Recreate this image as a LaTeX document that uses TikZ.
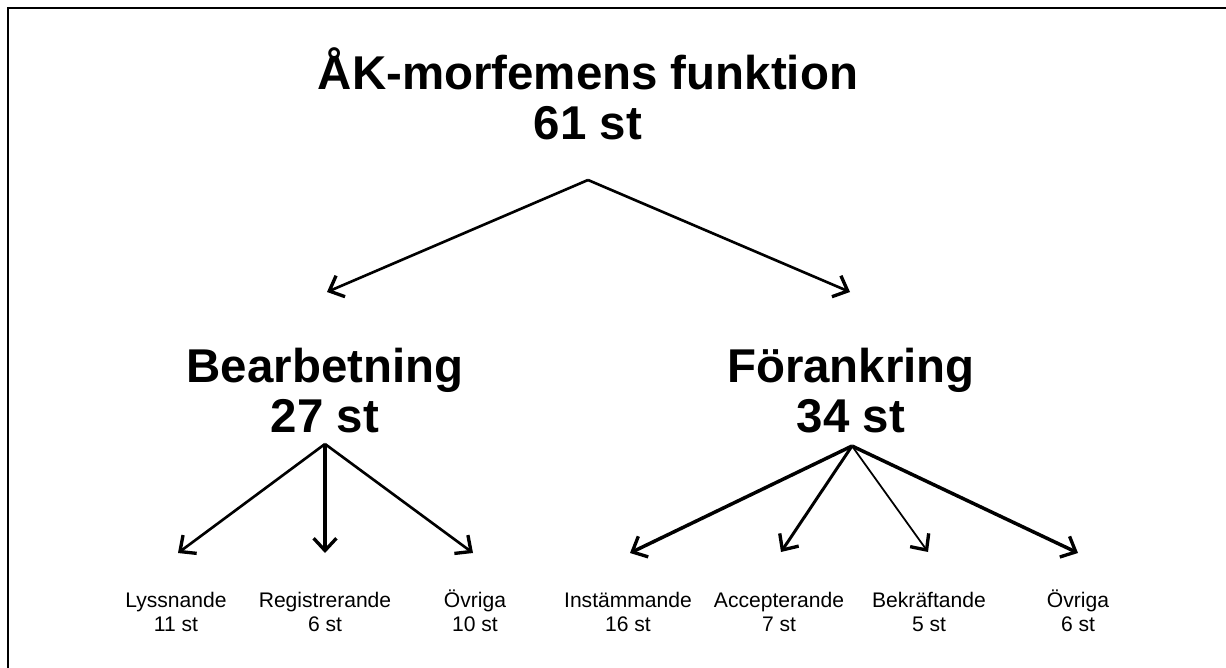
\documentclass[tikz,border=0pt]{standalone}
\usepackage{fontspec}
\setmainfont{Liberation Sans}
\usetikzlibrary{arrows.meta,positioning}

\begin{document}
\begin{tikzpicture}[x=0.02cm, y=-0.02cm,
    head/.style={font=\bfseries\fontsize{27}{28}\selectfont, align=center, inner sep=0pt, anchor=south},
    leaf/.style={font=\fontsize{12}{13.6}\selectfont, align=center, inner sep=0pt, anchor=south},
    branch/.style={-{Straight Barb[length=7pt,width=13pt,line width=1.9pt]}, line width=1.5pt}]
    \useasboundingbox (0,0) rectangle (1226,668);
    % frame
    \draw [line width=1.2pt] (8,8) rectangle (1240,680);

    % Top
    \node [head] (funktion) at (588,140) {ÅK-morfemens funktion\\61 st};

    % Second level
    \node [head] (bearb) at (325,433) {Bearbetning\\27 st};
    \node [head] (forank) at (851,433) {Förankring\\34 st};

    % Leaves
    \node [leaf] (lyss) at (176,632) {Lyssnande\\11 st};
    \node [leaf] (regist) at (325,632) {Registrerande\\6 st};
    \node [leaf] (ovrigaB) at (475,632) {Övriga\\10 st};
    \node [leaf] (instam) at (628,632) {Instämmande\\16 st};
    \node [leaf] (accept) at (779,632) {Accepterande\\7 st};
    \node [leaf] (bekraft) at (929,632) {Bekräftande\\5 st};
    \node [leaf] (ovrigaF) at (1078,632) {Övriga\\6 st};

    % Forks and arrow tips
    \coordinate (funktion-fork) at (588,180);
    \coordinate (bearb-tip) at (327,292);
    \coordinate (forank-tip) at (850,292);
    \coordinate (bearb-fork) at (325,444);
    \coordinate (lyss-tip) at (178,553);
    \coordinate (regist-tip) at (325,553);
    \coordinate (ovrigaB-tip) at (473,553);
    \coordinate (forank-fork) at (852,446);
    \coordinate (instam-tip) at (630,553);
    \coordinate (accept-tip) at (781,552);
    \coordinate (bekraft-tip) at (928,552);
    \coordinate (ovrigaF-tip) at (1078,553);

    % Arrows
    \draw [branch] (funktion-fork) -- (bearb-tip);
    \draw [branch] (funktion-fork) -- (forank-tip);
    \draw [branch] (bearb-fork) -- (lyss-tip);
    \draw [branch, line width=2.3pt] (bearb-fork) -- (regist-tip);
    \draw [branch] (bearb-fork) -- (ovrigaB-tip);
    \draw [branch, line width=2pt] (forank-fork) -- (instam-tip);
    \draw [branch, line width=1.7pt] (forank-fork) -- (accept-tip);
    \draw [branch, line width=1pt] (forank-fork) -- (bekraft-tip);
    \draw [branch, line width=2pt] (forank-fork) -- (ovrigaF-tip);
\end{tikzpicture}
\end{document}
